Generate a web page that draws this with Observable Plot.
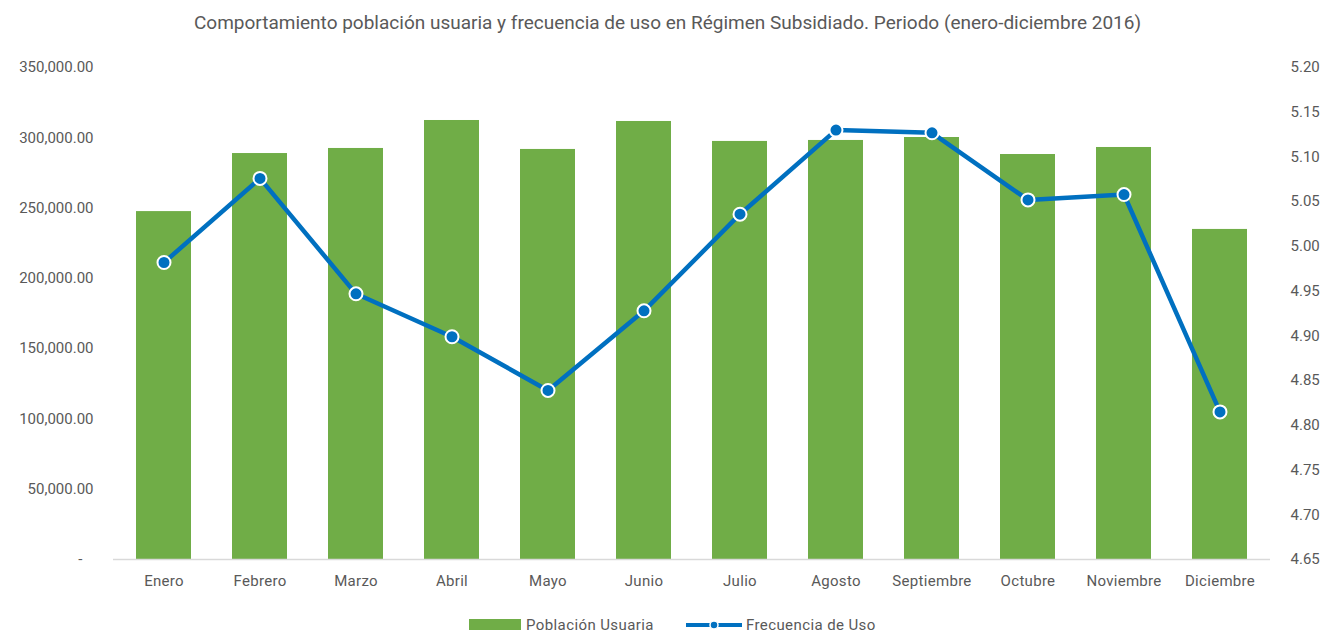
<!DOCTYPE html>
<html>
<head>
<meta charset="utf-8">
<script src="https://cdn.jsdelivr.net/npm/d3@7"></script>
<script src="https://cdn.jsdelivr.net/npm/@observablehq/plot@0.6"></script>
<style>
  body { margin: 0; background: #fff; font-family: Roboto, sans-serif; color: #595959; }
  #title { height: 45px; line-height: 45px; text-align: center; font-size: 19px; color: #595959; }
  #legend { position: relative; height: 19px; font-size: 15px; color: #595959; letter-spacing: 0.4px; }
  .lg { position: absolute; top: 0; display: flex; align-items: center; height: 19px; }
  #chart svg g[aria-label="x-axis tick label"] text { letter-spacing: 0.3px; }
</style>
</head>
<body>
<div id="title">Comportamiento población usuaria y frecuencia de uso en Régimen Subsidiado. Periodo (enero-diciembre 2016)</div>
<div id="chart"></div>
<div id="legend">
  <div class="lg" style="left:469px"><span style="display:inline-block;width:52px;height:11px;background:#70AD47;margin-right:5px"></span>Población Usuaria</div>
  <div class="lg" style="left:686px"><svg width="58" height="12" style="margin-right:2px"><line x1="0" y1="6" x2="56" y2="6" stroke="#0070C0" stroke-width="4"/><circle cx="28" cy="6" r="4" fill="#0070C0" stroke="#fff" stroke-width="1.5"/></svg>Frecuencia de Uso</div>
</div>
<script>
const meses = ["Enero","Febrero","Marzo","Abril","Mayo","Junio","Julio","Agosto","Septiembre","Octubre","Noviembre","Diciembre"];
const poblacion = [247500, 288800, 292400, 312300, 291700, 311600, 297400, 298100, 300200, 288100, 293100, 234800];
const frecuencia = [4.982, 5.076, 4.947, 4.899, 4.839, 4.928, 5.036, 5.130, 5.127, 5.052, 5.058, 4.815];
const leftTicks = [50000, 100000, 150000, 200000, 250000, 300000, 350000];
const rightTicks = [4.65, 4.70, 4.75, 4.80, 4.85, 4.90, 4.95, 5.00, 5.05, 5.10, 5.15, 5.20];

const yMax = 350000;
const rMin = 4.65, rMax = 5.20;
const toLeft = v => (v - rMin) / (rMax - rMin) * yMax;
const fromLeft = y => rMin + y / yMax * (rMax - rMin);

const bars = meses.map((m, i) => ({mes: m, valor: poblacion[i]}));
const linea = meses.map((m, i) => ({mes: m, f: toLeft(frecuencia[i])}));

const fmt = d3.format(",.2f");
const font = "Roboto, sans-serif";

const chart = Plot.plot({
  width: 1335,
  height: 570,
  marginTop: 22,
  marginBottom: 56,
  marginLeft: 113,
  marginRight: 65,
  style: {fontFamily: font, fontSize: "15px", color: "#595959", background: "#fff"},
  x: {domain: meses, paddingInner: 0.43, paddingOuter: 0.2, label: null},
  y: {domain: [0, yMax], label: null},
  marks: [
    Plot.barY(bars, {x: "mes", y: "valor", fill: "#70AD47"}),
    Plot.ruleY([0], {stroke: "#D9D9D9", strokeWidth: 1.5}),
    Plot.axisX({tickSize: 0, tickPadding: 16, label: null, fontSize: 15, fill: "#595959"}),
    Plot.axisY(leftTicks, {anchor: "left", tickSize: 0, tickPadding: 20, tickFormat: fmt, label: null, fontSize: 15, fill: "#595959"}),
    Plot.axisY([0], {anchor: "left", tickSize: 0, tickPadding: 31, tickFormat: () => "-", label: null, fontSize: 15, fill: "#595959"}),
    Plot.axisY(rightTicks.map(toLeft), {anchor: "right", tickSize: 0, tickPadding: 20, tickFormat: d => fromLeft(d).toFixed(2), label: null, fontSize: 15, fill: "#595959"}),
    Plot.line(linea, {x: "mes", y: "f", stroke: "#0070C0", strokeWidth: 4.5}),
    Plot.dot(linea, {x: "mes", y: "f", r: 6.5, fill: "#0070C0", stroke: "#fff", strokeWidth: 2})
  ]
});
document.getElementById("chart").appendChild(chart);
</script>
</body>
</html>
